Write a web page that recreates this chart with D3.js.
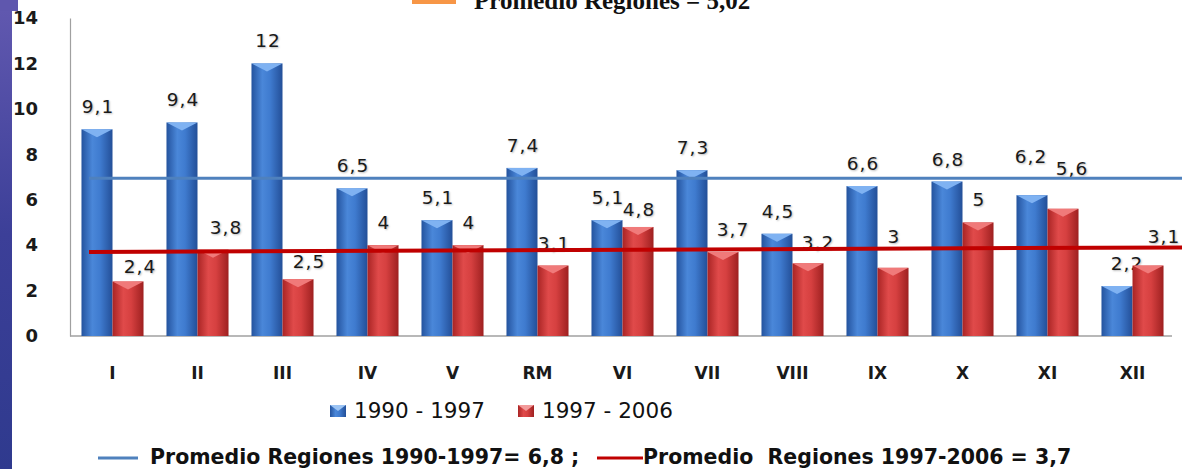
<!DOCTYPE html>
<html>
<head>
<meta charset="utf-8">
<script src="https://cdn.jsdelivr.net/npm/d3@7"></script>
<style>
  body { margin: 0; background: #fff; }
  svg { display: block; }
  text { white-space: pre; }
</style>
</head>
<body>
<svg id="chart" width="1182" height="469"></svg>
<script>
const regions = ["I", "II", "III", "IV", "V", "RM", "VI", "VII", "VIII", "IX", "X", "XI", "XII"];
const series = ["1990 - 1997", "1997 - 2006"];
const values1990 = [9.1, 9.4, 12, 6.5, 5.1, 7.4, 5.1, 7.3, 4.5, 6.6, 6.8, 6.2, 2.2];
const values1997 = [2.4, 3.8, 2.5, 4, 4, 3.1, 4.8, 3.7, 3.2, 3, 5, 5.6, 3.1];
const yTicks = [0, 2, 4, 6, 8, 10, 12, 14];
// average lines, level where they are drawn (start, end)
const avgLabels = ["Promedio Regiones 1990-1997= 6,8 ;", "Promedio  Regiones 1997-2006 = 3,7"];
const avgLevels = [[6.95, 6.95], [3.7, 3.9]];
const topLabel = "Promedio Regiones = 5,02";

const svg = d3.select("#chart");

const defs = svg.append("defs");
const grad = (id, stops) => {
  const g = defs.append("linearGradient").attr("id", id).attr("x1", 0).attr("x2", 1).attr("y1", 0).attr("y2", 0);
  stops.forEach(([o, c]) => g.append("stop").attr("offset", o).attr("stop-color", c));
};
grad("g0", [[0, "#24539e"], [0.35, "#4a87d9"], [0.6, "#3f7bcf"], [1, "#234f98"]]);
grad("g1", [[0, "#a92424"], [0.35, "#e04a4a"], [0.6, "#d64040"], [1, "#9e2020"]]);

// left purple strip
const sg = defs.append("linearGradient").attr("id", "stripV").attr("x1", 0).attr("x2", 0).attr("y1", 0).attr("y2", 1);
sg.append("stop").attr("offset", 0).attr("stop-color", "#6259b0");
sg.append("stop").attr("offset", 0.5).attr("stop-color", "#3c3f98");
sg.append("stop").attr("offset", 1).attr("stop-color", "#2f3a8e");
svg.append("rect").attr("x", 0).attr("y", 0).attr("width", 12).attr("height", 469).attr("fill", "url(#stripV)");
svg.append("rect").attr("x", 0).attr("y", 0).attr("width", 18).attr("height", 11).attr("fill", "#5f57ae");

const x = d3.scaleBand().domain(regions).range([70, 1175]).paddingInner(0).paddingOuter(0);
const xs = d3.scaleBand().domain(series).range([0, x.bandwidth()]).paddingInner(0).paddingOuter(0.37);
const y = d3.scaleLinear().domain([0, 14]).range([336, 18]);

// top cut-off legend
svg.append("rect").attr("x", 412).attr("y", -6).attr("width", 44).attr("height", 10).attr("fill", "#f79646");
svg.append("text").attr("x", 474).attr("y", 9)
  .style("font-family", "'Liberation Serif', serif").style("font-size", "25px").style("font-weight", "700")
  .attr("fill", "#111").text(topLabel);

// axes
const yAxis = svg.append("g").attr("transform", "translate(70,0)")
  .call(d3.axisLeft(y).tickValues(yTicks).tickSize(0).tickPadding(32));
yAxis.select(".domain").attr("stroke", "#a0a0a0").attr("stroke-width", 1.2);
yAxis.selectAll("text")
  .style("font-family", "'DejaVu Sans', sans-serif").style("font-size", "18px").style("font-weight", "700")
  .attr("fill", "#1a1a1a");

svg.append("line").attr("x1", 70).attr("x2", 1172).attr("y1", y(0)).attr("y2", y(0))
  .attr("stroke", "#a0a0a0").attr("stroke-width", 1.5);

const xAxis = svg.append("g").attr("transform", `translate(0,${y(0)})`)
  .call(d3.axisBottom(x).tickSize(0).tickPadding(31));
xAxis.select(".domain").remove();
xAxis.selectAll("text")
  .style("font-family", "'DejaVu Sans', sans-serif").style("font-size", "17px").style("font-weight", "700")
  .attr("fill", "#1a1a1a");

// bars
const rows = regions.map((r, i) => ({ region: r, vals: [values1990[i], values1997[i]] }));
const groups = svg.selectAll("g.region").data(rows).enter().append("g")
  .attr("class", "region").attr("transform", (d) => `translate(${x(d.region)},0)`);

const bars = groups.selectAll("g.bar")
  .data((d) => d.vals.map((v, k) => ({ v, k, s: series[k], region: d.region })))
  .enter().append("g").attr("class", "bar");

bars.append("rect")
  .attr("x", (d) => xs(d.s)).attr("width", xs.bandwidth())
  .attr("y", (d) => y(d.v)).attr("height", (d) => y(0) - y(d.v))
  .attr("fill", (d) => `url(#g${d.k})`);

bars.append("path")
  .attr("d", (d) => {
    const x0 = xs(d.s), w = xs.bandwidth(), t = y(d.v);
    return `M${x0},${t}L${x0 + w},${t}L${x0 + w / 2},${t + 8}Z`;
  })
  .attr("fill", (d) => d.k === 0 ? "#7fb2f2" : "#f07a7a");

// average lines
const lineColors = ["#4f81bd", "#c00000"];
const lineWidths = [3, 4];
avgLevels.forEach((lv, i) => {
  svg.append("line").attr("x1", 89).attr("x2", 1182)
    .attr("y1", y(lv[0])).attr("y2", y(lv[1]))
    .attr("stroke", lineColors[i]).attr("stroke-width", lineWidths[i]);
});

// data labels (label placement tweaks as in the original)
const fmt = (v) => String(v).replace(".", ",");
const nudge = {
  "I-1": [11, 8], "II-1": [12, 0], "III-1": [10, 5], "VI-1": [0, 5], "VII-1": [9, 0], "VIII-1": [9, 2],
  "IX-1": [0, -9], "XI-0": [-2, -16], "XI-1": [8, -18], "XII-0": [9, 0], "XII-1": [15, -7]
};
const nd = (d) => nudge[`${d.region}-${d.k}`] || [0, 0];
bars.append("text")
  .attr("x", (d) => xs(d.s) + xs.bandwidth() / 2 + nd(d)[0] + 1)
  .attr("y", (d) => y(d.v) - 16 + nd(d)[1])
  .attr("text-anchor", "middle")
  .style("font-family", "'DejaVu Sans', sans-serif").style("font-size", "18.5px")
  .style("letter-spacing", "1px")
  .style("text-shadow", "1px 1px 2px #bbb")
  .attr("fill", "#1a1a1a")
  .text((d) => fmt(d.v));

// legend row 1
const leg = svg.append("g");
const legX = [330, 518];
series.forEach((s, i) => {
  leg.append("rect").attr("x", legX[i]).attr("y", 405).attr("width", 16).attr("height", 12)
    .attr("fill", `url(#g${i})`);
  leg.append("path").attr("d", `M${legX[i]},405L${legX[i] + 16},405L${legX[i] + 8},411Z`)
    .attr("fill", i === 0 ? "#9cc4f4" : "#f29a9a");
  leg.append("text").attr("x", legX[i] + 24).attr("y", 418)
    .style("font-family", "'DejaVu Sans', sans-serif").style("font-size", "21.5px")
    .attr("fill", "#111").text(s);
});

// legend row 2
const l2x = [[98, 138, 150], [597, 643, 643]];
avgLabels.forEach((t, i) => {
  leg.append("line").attr("x1", l2x[i][0]).attr("x2", l2x[i][1]).attr("y1", 458).attr("y2", 458)
    .attr("stroke", lineColors[i]).attr("stroke-width", 3);
  leg.append("text").attr("x", l2x[i][2]).attr("y", 464)
    .style("font-family", "'DejaVu Sans', sans-serif").style("font-size", "20.5px").style("font-weight", "700")
    .attr("fill", "#111").text(t);
});
</script>
</body>
</html>
